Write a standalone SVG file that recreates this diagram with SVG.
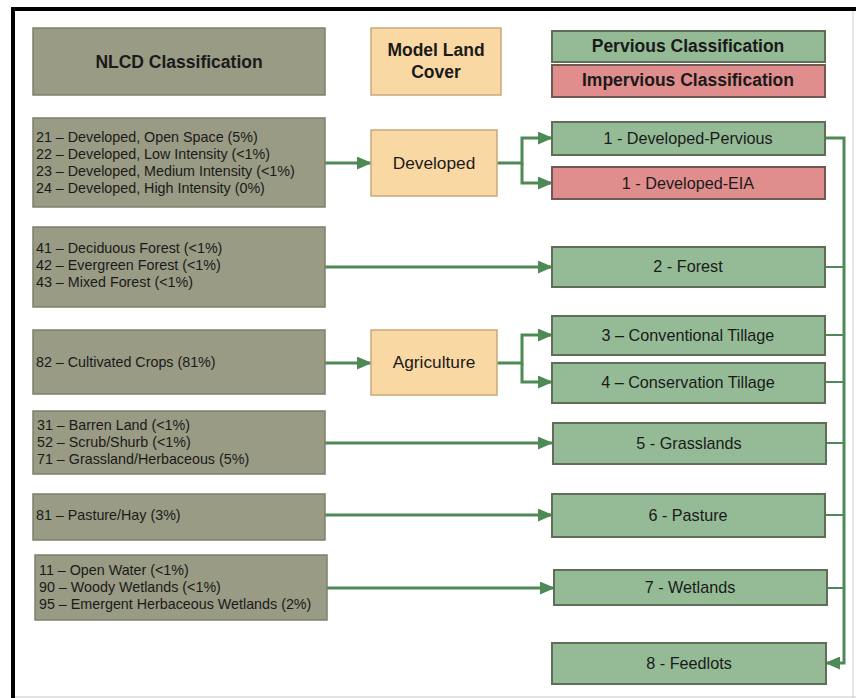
<svg xmlns="http://www.w3.org/2000/svg" width="856" height="698" viewBox="0 0 856 698">
<style>
text{font-family:"Liberation Sans",Arial,sans-serif;fill:#1a1a1a}
.nl{fill:#999b84;stroke:#7e806b;stroke-width:1.5}
.tan{fill:#fad8a4;stroke:#c9a97a;stroke-width:1.5}
.gr{fill:#94bb96;stroke:#5e6e58;stroke-width:2}
.pk{fill:#e08d8d;stroke:#6e5a52;stroke-width:2}
.hd{font-size:17.5px;font-weight:bold;text-anchor:middle}
.t{font-size:14.3px}
.c{font-size:16.2px;text-anchor:middle}
.m{font-size:17.3px;text-anchor:middle}
.cn{fill:none;stroke:#4e8a56;stroke-width:3}
.cl{fill:none;stroke:#4e8a56;stroke-width:2}
</style>
<defs>
<marker id="ah" markerWidth="15" markerHeight="13" refX="14" refY="6.5" orient="auto" markerUnits="userSpaceOnUse">
<path d="M0,0 L15,6.5 L0,13 Z" fill="#4e8a56"/>
</marker>
</defs>
<rect x="0" y="0" width="856" height="698" fill="#ffffff"/>
<!-- frame -->
<line x1="13" y1="9" x2="13" y2="698" stroke="#000" stroke-width="4"/>
<line x1="11" y1="9" x2="856" y2="9" stroke="#000" stroke-width="4"/>
<line x1="853" y1="11" x2="853" y2="698" stroke="#d0d0d0" stroke-width="1"/>
<line x1="15" y1="697" x2="856" y2="697" stroke="#c8c8c8" stroke-width="1"/>

<g id="connectors">
<line class="cn" x1="325" y1="163" x2="371" y2="163" marker-end="url(#ah)"/>
<path class="cn" d="M497,163 H522 V138 H552" marker-end="url(#ah)"/>
<path class="cn" d="M522,163 V183 H552" marker-end="url(#ah)"/>
<line class="cn" x1="325" y1="267" x2="552" y2="267" marker-end="url(#ah)"/>
<line class="cn" x1="325" y1="363" x2="371" y2="363" marker-end="url(#ah)"/>
<path class="cn" d="M497,363 H522 V335 H552" marker-end="url(#ah)"/>
<path class="cn" d="M522,363 V382 H552" marker-end="url(#ah)"/>
<line class="cn" x1="325" y1="443" x2="552" y2="443" marker-end="url(#ah)"/>
<line class="cn" x1="325" y1="515" x2="552" y2="515" marker-end="url(#ah)"/>
<line class="cn" x1="327" y1="588" x2="554" y2="588" marker-end="url(#ah)"/>
<path class="cn" d="M825,138 H844 V663 H826" marker-end="url(#ah)"/>
<line class="cl" x1="825" y1="267" x2="844" y2="267"/>
<line class="cl" x1="825" y1="335" x2="844" y2="335"/>
<line class="cl" x1="825" y1="382" x2="844" y2="382"/>
<line class="cl" x1="826" y1="443" x2="844" y2="443"/>
<line class="cl" x1="825" y1="515" x2="844" y2="515"/>
<line class="cl" x1="827" y1="588" x2="844" y2="588"/>
</g>

<g id="hdr-nlcd"><rect class="nl" x="33" y="28" width="292" height="67"/><text class="hd" x="179" y="68">NLCD Classification</text></g>
<g id="hdr-model"><rect class="tan" x="371" y="28" width="130" height="67"/><text class="hd" x="436" y="56">Model Land</text><text class="hd" x="436" y="78">Cover</text></g>
<g id="hdr-perv"><rect class="gr" x="552" y="31" width="273" height="31"/><text class="hd" x="688" y="52">Pervious Classification</text></g>
<g id="hdr-imperv"><rect class="pk" x="552" y="65" width="273" height="32"/><text class="hd" x="688" y="86">Impervious Classification</text></g>

<g id="n-dev"><rect class="nl" x="33" y="118" width="292" height="89"/>
<text class="t" x="36" y="142">21 – Developed, Open Space (5%)</text>
<text class="t" x="36" y="159">22 – Developed, Low Intensity (&lt;1%)</text>
<text class="t" x="36" y="176">23 – Developed, Medium Intensity (&lt;1%)</text>
<text class="t" x="36" y="193">24 – Developed, High Intensity (0%)</text></g>
<g id="m-dev"><rect class="tan" x="371" y="130" width="126" height="66"/><text class="m" x="434" y="169">Developed</text></g>
<g id="c-devperv"><rect class="gr" x="552" y="122" width="273" height="33"/><text class="c" x="688" y="144">1 - Developed-Pervious</text></g>
<g id="c-deveia"><rect class="pk" x="552" y="167" width="273" height="32"/><text class="c" x="688" y="189">1 - Developed-EIA</text></g>

<g id="n-forest"><rect class="nl" x="33" y="227" width="292" height="80"/>
<text class="t" x="36" y="253">41 – Deciduous Forest (&lt;1%)</text>
<text class="t" x="36" y="270">42 – Evergreen Forest (&lt;1%)</text>
<text class="t" x="36" y="287">43 – Mixed Forest (&lt;1%)</text></g>
<g id="c-forest"><rect class="gr" x="552" y="247" width="273" height="40"/><text class="c" x="688" y="272">2 - Forest</text></g>

<g id="n-crops"><rect class="nl" x="33" y="330" width="292" height="64"/>
<text class="t" x="36" y="367">82 – Cultivated Crops (81%)</text></g>
<g id="m-ag"><rect class="tan" x="371" y="330" width="126" height="65"/><text class="m" x="434" y="368">Agriculture</text></g>
<g id="c-conv"><rect class="gr" x="552" y="316" width="273" height="39"/><text class="c" x="688" y="341">3 – Conventional Tillage</text></g>
<g id="c-cons"><rect class="gr" x="552" y="363" width="273" height="40"/><text class="c" x="688" y="388">4 – Conservation Tillage</text></g>

<g id="n-grass"><rect class="nl" x="33" y="411" width="292" height="63"/>
<text class="t" x="37" y="430">31 – Barren Land (&lt;1%)</text>
<text class="t" x="37" y="447">52 – Scrub/Shurb (&lt;1%)</text>
<text class="t" x="37" y="464">71 – Grassland/Herbaceous (5%)</text></g>
<g id="c-grass"><rect class="gr" x="553" y="423" width="273" height="41"/><text class="c" x="689" y="449">5 - Grasslands</text></g>

<g id="n-pasture"><rect class="nl" x="33" y="494" width="292" height="46"/>
<text class="t" x="36" y="520">81 – Pasture/Hay (3%)</text></g>
<g id="c-pasture"><rect class="gr" x="552" y="494" width="273" height="43"/><text class="c" x="688" y="521">6 - Pasture</text></g>

<g id="n-wet"><rect class="nl" x="35" y="555" width="292" height="65"/>
<text class="t" x="39" y="575">11 – Open Water (&lt;1%)</text>
<text class="t" x="39" y="592">90 – Woody Wetlands (&lt;1%)</text>
<text class="t" x="39" y="609">95 – Emergent Herbaceous Wetlands (2%)</text></g>
<g id="c-wet"><rect class="gr" x="554" y="570" width="273" height="35"/><text class="c" x="690" y="593">7 - Wetlands</text></g>

<g id="c-feed"><rect class="gr" x="552" y="643" width="274" height="41"/><text class="c" x="689" y="669">8 - Feedlots</text></g>
</svg>
